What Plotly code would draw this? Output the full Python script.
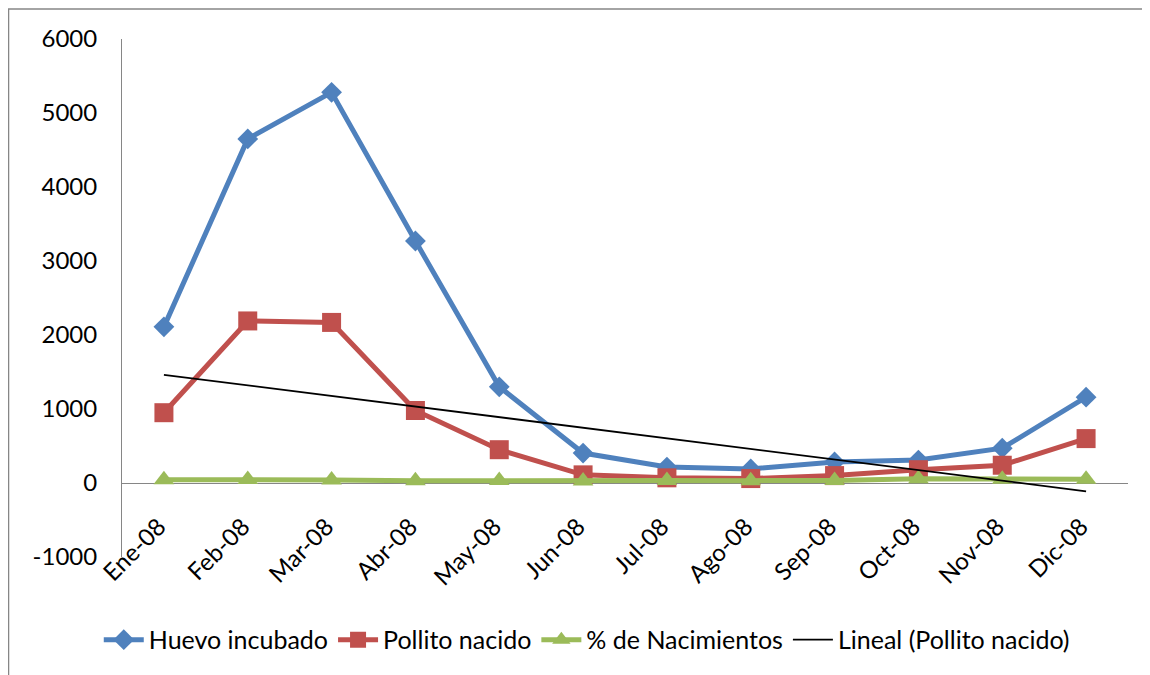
import numpy as np
import plotly.graph_objects as go

meses = ["Ene-08", "Feb-08", "Mar-08", "Abr-08", "May-08", "Jun-08",
         "Jul-08", "Ago-08", "Sep-08", "Oct-08", "Nov-08", "Dic-08"]
huevo_incubado = [2110, 4650, 5280, 3270, 1300, 405, 215, 190, 285, 310, 470, 1160]
pollito_nacido = [950, 2190, 2170, 980, 450, 110, 70, 60, 100, 180, 240, 600]
pct_nacimientos = [45, 47, 41, 30, 35, 27, 33, 32, 35, 58, 51, 52]
y_ticks = [-1000, 0, 1000, 2000, 3000, 4000, 5000, 6000]
y_tick_labels = ["-1000", "0", "1000", "2000", "3000", "4000", "5000", "6000"]

# Linear trendline (Excel "Lineal") of Pollito nacido
xi = np.arange(1, len(meses) + 1)
slope, intercept = np.polyfit(xi, pollito_nacido, 1)
tendencia = slope * xi + intercept

BLUE = "#4F81BD"
RED = "#C0504D"
GREEN = "#9BBB59"
FONT = "Lato"

fig = go.Figure()
fig.add_trace(go.Scatter(x=meses, y=huevo_incubado, name="Huevo incubado",
                         mode="lines+markers",
                         line=dict(color=BLUE, width=5),
                         marker=dict(symbol="diamond", size=16, color=BLUE)))
fig.add_trace(go.Scatter(x=meses, y=pollito_nacido, name="Pollito nacido",
                         mode="lines+markers",
                         line=dict(color=RED, width=5),
                         marker=dict(symbol="square", size=19, color=RED)))
fig.add_trace(go.Scatter(x=meses, y=pct_nacimientos, name="% de Nacimientos",
                         mode="lines+markers",
                         line=dict(color=GREEN, width=5),
                         marker=dict(symbol="triangle-up", size=18, color=GREEN)))
fig.add_trace(go.Scatter(x=meses, y=tendencia, name="Lineal (Pollito nacido)",
                         mode="lines",
                         line=dict(color="black", width=1.8)))

fig.update_layout(
    width=1142, height=667,
    margin=dict(l=114, r=22, t=31, b=118),
    paper_bgcolor="white", plot_bgcolor="white",
    font=dict(family=FONT, size=24, color="black"),
    showlegend=True,
    legend=dict(orientation="h", x=0.462, xanchor="center", y=-0.16,
                yanchor="middle", font=dict(size=25), itemwidth=40,
                traceorder="normal"),
    xaxis=dict(type="category", range=[-0.5, 11.5], showgrid=False,
               showline=False, zeroline=False, ticks="", tickangle=-45,
               tickfont=dict(size=24), ticklabelstandoff=-50,
               ticklabelshift=-5),
    yaxis=dict(range=[-1000, 6000], tickvals=y_ticks, ticktext=y_tick_labels,
               showgrid=False,
               showline=True, linecolor="#868686", linewidth=1,
               zeroline=True, zerolinecolor="#868686", zerolinewidth=1,
               ticks="", tickfont=dict(size=24), ticklabelstandoff=19),
    shapes=[dict(type="rect", xref="paper", yref="paper",
                 x0=-0.1128, x1=1.04, y0=1.058, y1=-0.25,
                 line=dict(color="#868686", width=1.5), layer="below")],
)

fig.write_html("out.html")
